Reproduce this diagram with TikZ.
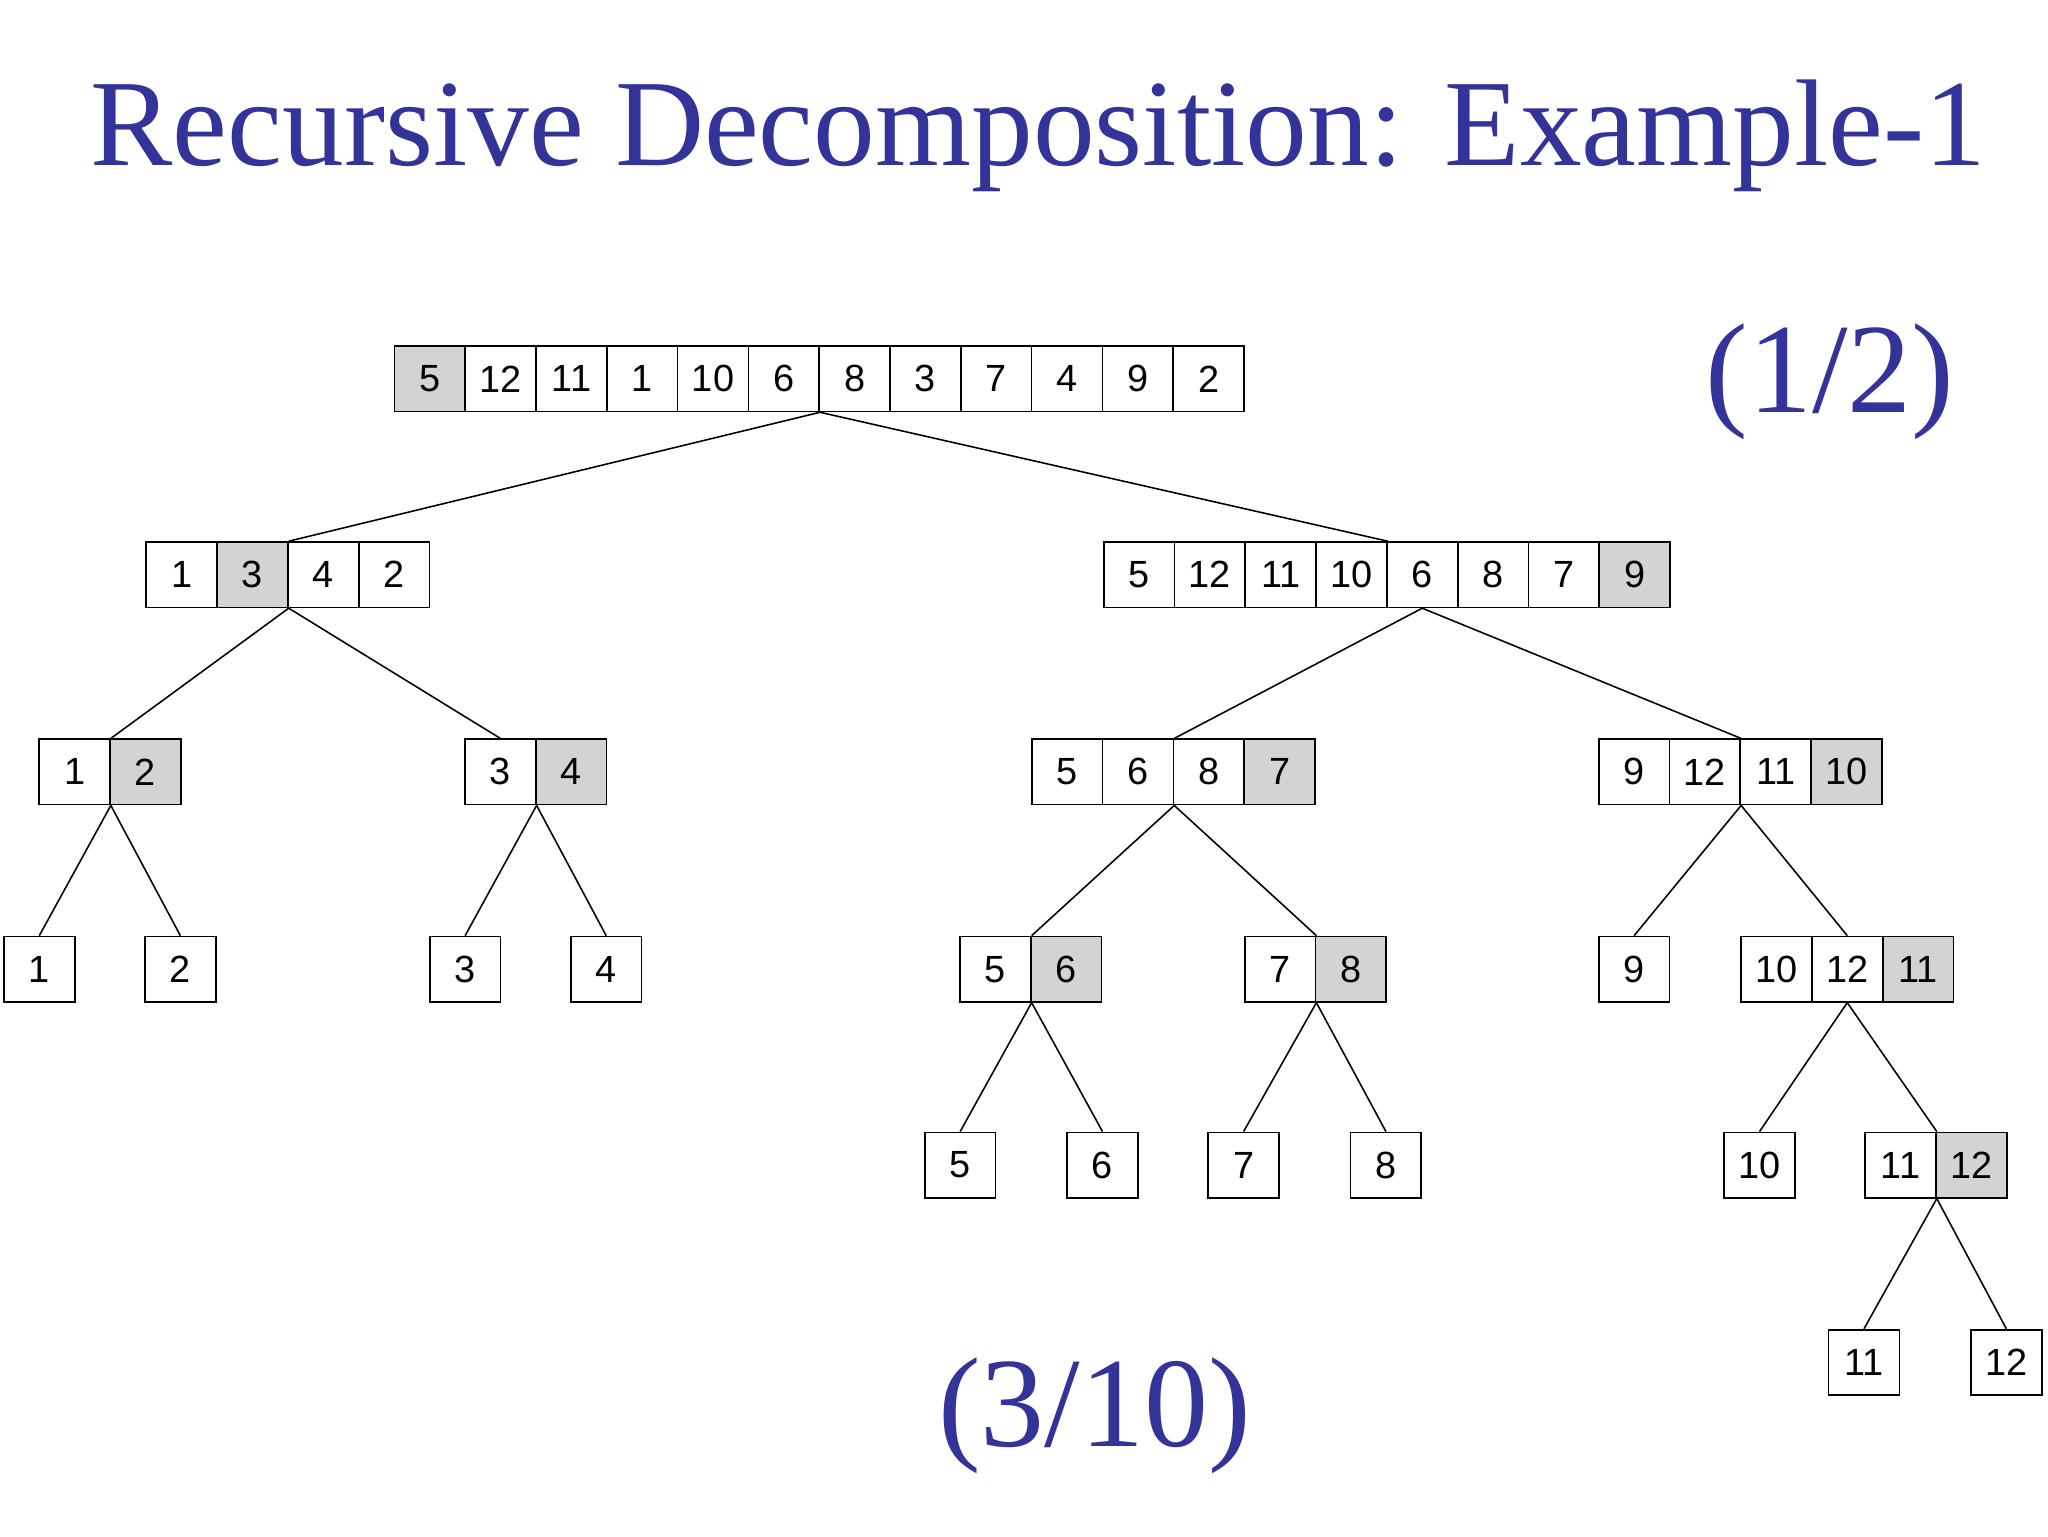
\documentclass[tikz,border=0pt]{standalone}
\usepackage{fontspec}
\setmainfont{Liberation Serif}
\newfontfamily\cellfont{Liberation Sans}
\usetikzlibrary{calc}
\definecolor{titleblue}{HTML}{333399}
\definecolor{shade}{HTML}{D3D3D3}
\tikzset{
  cellbox/.style={draw=black, line width=1.3pt, minimum width=54.2pt, minimum height=50pt, inner sep=0pt, font=\cellfont\fontsize{29}{30}\selectfont},
  shaded/.style={fill=shade},
  edge/.style={line width=1.2pt},
  bigtext/.style={text=titleblue, font=\fontsize{98}{100}\selectfont, inner sep=0pt}
}
% \arr{name}{x}{y}{values}{shaded index}
\newcommand{\arr}[5]{%
  \foreach \v [count=\i] in {#4}{%
    \ifnum\i=#5\relax
      \node[cellbox,shaded] (#1\i) at ({#2+(\i-0.5)*54.2},{-(#3)-25}) {\v};
    \else
      \node[cellbox] (#1\i) at ({#2+(\i-0.5)*54.2},{-(#3)-25}) {\v};
    \fi
  }%
}
\begin{document}
\begin{tikzpicture}[x=1pt,y=1pt]
\useasboundingbox[fill=white] (0,0) rectangle (1568,-1176);
\node[bigtext, font=\fontsize{94.5}{96}\selectfont] (title) at (795,-104) {Recursive Decomposition: Example-1};
\node[bigtext] (p12) at (1401,-292) {(1/2)};
\node[bigtext] (p310) at (838,-1084) {(3/10)};

\arr{A}{302}{265}{5,12,11,1,10,6,8,3,7,4,9,2}{1}
\arr{B}{112}{415}{1,3,4,2}{2}
\arr{C}{845}{415}{5,12,11,10,6,8,7,9}{8}
\arr{D}{30}{566}{1,2}{2}
\arr{E}{356}{566}{3,4}{2}
\arr{F}{790}{566}{5,6,8,7}{4}
\arr{G}{1224}{566}{9,12,11,10}{4}
\arr{La}{3}{717}{1}{0}
\arr{Lb}{111}{717}{2}{0}
\arr{Lc}{329}{717}{3}{0}
\arr{Ld}{437}{717}{4}{0}
\arr{H}{735}{717}{5,6}{2}
\arr{I}{953}{717}{7,8}{2}
\arr{Le}{1224}{717}{9}{0}
\arr{J}{1333}{717}{10,12,11}{3}
\arr{Lf}{708}{867}{5}{0}
\arr{Lg}{817}{867}{6}{0}
\arr{Lh}{925}{867}{7}{0}
\arr{Li}{1034}{867}{8}{0}
\arr{Lj}{1320}{867}{10}{0}
\arr{K}{1428}{867}{11,12}{2}
\arr{Lk}{1400}{1018}{11}{0}
\arr{Ll}{1509}{1018}{12}{0}

\draw[edge] (A6.south east) -- (B2.north east);
\draw[edge] (A6.south east) -- (C4.north east);
\draw[edge] (B2.south east) -- (D1.north east);
\draw[edge] (B2.south east) -- (E1.north);
\draw[edge] (D1.south east) -- (La1.north);
\draw[edge] (D1.south east) -- (Lb1.north);
\draw[edge] (E1.south east) -- (Lc1.north);
\draw[edge] (E1.south east) -- (Ld1.north);
\draw[edge] (C5.south) -- (F2.north east);
\draw[edge] (C5.south) -- (G2.north east);
\draw[edge] (F2.south east) -- (H1.north east);
\draw[edge] (F2.south east) -- (I1.north east);
\draw[edge] (G2.south east) -- (Le1.north);
\draw[edge] (G2.south east) -- (J2.north);
\draw[edge] (H1.south east) -- (Lf1.north);
\draw[edge] (H1.south east) -- (Lg1.north);
\draw[edge] (I1.south east) -- (Lh1.north);
\draw[edge] (I1.south east) -- (Li1.north);
\draw[edge] (J2.south) -- (Lj1.north);
\draw[edge] (J2.south) -- (K1.north east);
\draw[edge] (K1.south east) -- (Lk1.north);
\draw[edge] (K1.south east) -- (Ll1.north);
\end{tikzpicture}
\end{document}
